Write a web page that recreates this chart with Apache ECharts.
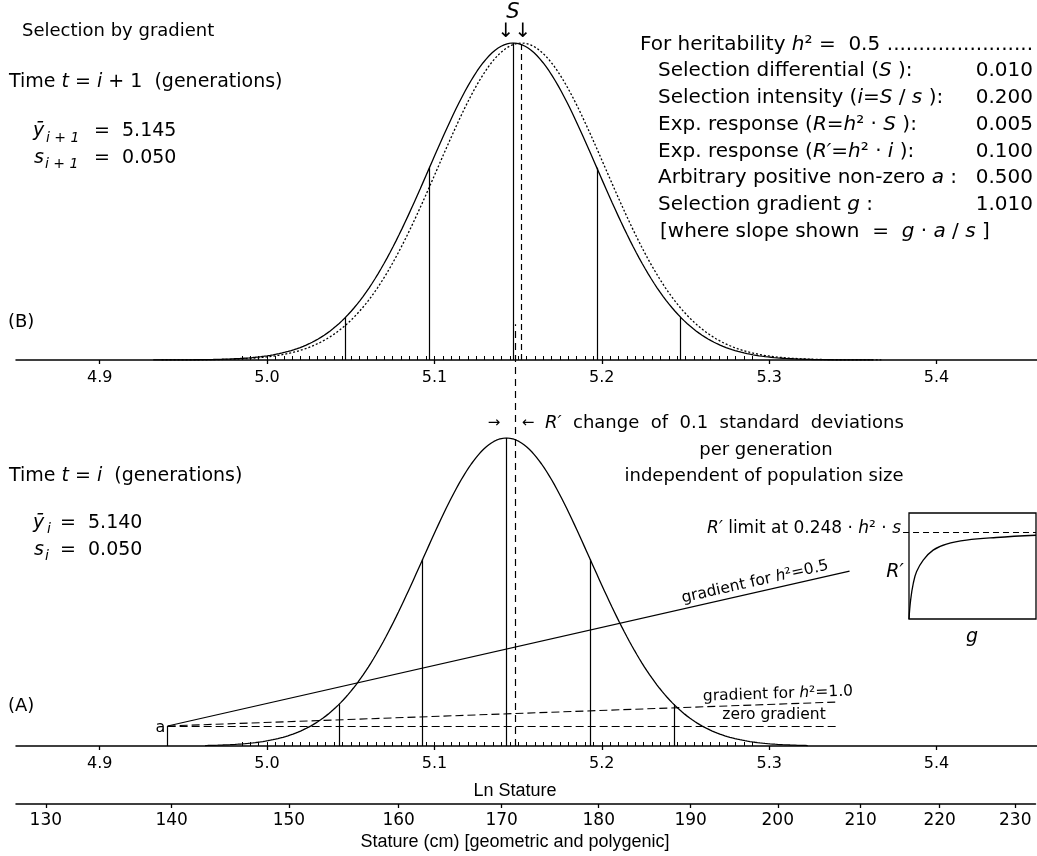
<!DOCTYPE html>
<html>
<head>
<meta charset="utf-8">
<script src="https://cdn.jsdelivr.net/npm/echarts@6/dist/echarts.min.js"></script>
<style>
  html, body { margin: 0; background: #fff; }
  #c { width: 1037px; height: 856px; }
</style>
</head>
<body>
<div id="c"></div>
<script>
// tick labels
const lnTicks = [4.9, 5.0, 5.1, 5.2, 5.3, 5.4];
const cmTicks = [130, 140, 150, 160, 170, 180, 190, 200, 210, 220, 230];
// distributions on ln stature
const meanParent = 5.143;    // (A) time i
const meanOffspring = 5.147; // (B) time i+1
const meanSelected = 5.152;  // (B) dotted, selected parents
const sdLn = 0.050;
const sdSteps = [-2, -1, 0, 1, 2];
const responseX = 5.1485;    // long dashed line
// gradient lines in (A): [ln stature, height relative to peak]
const gradStart = [4.9406, 0.065];
const gradHalfEnd = [5.348, 0.568];
const gradOneEnd = [5.3415, 0.143];
const gradZeroEnd = [5.3415, 0.065];
// inset R' against g
const insetG = [0, 0.013, 0.034, 0.06, 0.112, 0.19, 0.295, 0.452, 0.687, 1.0];
const insetR = [0, 0.181, 0.338, 0.447, 0.556, 0.65, 0.706, 0.744, 0.769, 0.79];
const insetLimit = 0.82;
// parameter table
const paramLabels = [
  '{n|Selection differential (}{i|S}{n| ):}',
  '{n|Selection intensity (}{i|i}{n|=}{i|S}{n| / }{i|s}{n| ):}',
  '{n|Exp. response (}{i|R}{n|=}{i|h}{n|² · }{i|S}{n| ):}',
  '{n|Exp. response (}{i|R′}{n|=}{i|h}{n|² · }{i|i}{n| ):}',
  '{n|Arbitrary positive non-zero }{i|a}{n| :}',
  '{n|Selection gradient }{i|g}{n| :}'
];
const paramValues = ['0.010', '0.200', '0.005', '0.100', '0.500', '1.010'];
// histogram bin ticks under the curves
const binFrom = 4.985, binTo = 5.29, binStep = 0.005;

const SANS = '"DejaVu Sans", Verdana, sans-serif';
const NARROW = '"Liberation Sans", Arial, sans-serif';
const LN_MIN = 4.85, LN_MAX = 5.46;

const bins = [];
for (let k = 0; binFrom + k * binStep <= binTo + 1e-9; k++) bins.push(+(binFrom + k * binStep).toFixed(4));

function bell(mean, sd, span) {
  const pts = [];
  const n = 240;
  for (let i = 0; i <= n; i++) {
    const x = mean - span * sd + 2 * span * sd * i / n;
    const z = (x - mean) / sd;
    pts.push([x, Math.exp(-z * z / 2)]);
  }
  return pts;
}
function sdLines(mean, sd) {
  return sdSteps.map(k => ({ coords: [[mean + k * sd, 0], [mean + k * sd, Math.exp(-k * k / 2)]] }));
}

function lnAxis(g) {
  return {
    type: 'value', gridIndex: g, min: LN_MIN, max: LN_MAX, position: 'bottom',
    axisLine: { onZero: false, lineStyle: { color: '#000', width: 1.5 } },
    axisTick: { customValues: lnTicks, inside: false, length: 4, lineStyle: { color: '#000', width: 1.3 } },
    axisLabel: { customValues: lnTicks, formatter: v => v.toFixed(1), color: '#000', fontSize: 16, fontFamily: SANS, margin: 10 },
    splitLine: { show: false }
  };
}
function minorAxis(g) {
  return {
    type: 'value', gridIndex: g, min: LN_MIN, max: LN_MAX, position: 'bottom',
    axisLine: { show: false, onZero: false },
    axisTick: { customValues: bins, inside: true, length: 4, lineStyle: { color: '#000', width: 1 } },
    axisLabel: { show: false },
    splitLine: { show: false }
  };
}
function hiddenY(g) {
  return { type: 'value', gridIndex: g, min: 0, max: 1, show: false };
}
const solid = { color: '#000', width: 1.3, opacity: 1 };

function txt(x, y, text, size, opt) {
  opt = opt || {};
  const fam = opt.family || SANS;
  return {
    type: 'text', x: x, y: y, rotation: opt.rot || 0, silent: true,
    style: {
      text: text, fill: '#000', font: (opt.italic ? 'italic ' : '') + size + 'px ' + fam,
      align: opt.align || 'left', verticalAlign: 'middle',
      rich: opt.rich ? {
        n: { fontSize: size, fontFamily: fam, fill: '#000' },
        i: { fontSize: size, fontFamily: fam, fontStyle: 'italic', fill: '#000' }
      } : undefined
    }
  };
}

const graphic = [
  txt(22, 31, 'Selection by gradient', 18),
  txt(9, 82, '{n|Time }{i|t}{n| = }{i|i}{n| + 1  (generations)}', 19, { rich: true }),
  txt(33, 131, 'ȳ', 19, { italic: true }),
  txt(46, 138, 'i + 1', 14, { italic: true }),
  txt(94, 131, '=  5.145', 19),
  txt(34, 158, 's', 19, { italic: true }),
  txt(45, 164, 'i + 1', 14, { italic: true }),
  txt(94, 158, '=  0.050', 19),
  txt(8, 322, '(B)', 18),
  txt(513, 13, 'S', 21, { italic: true, align: 'center' }),
  txt(506, 32, '↓', 20, { align: 'center' }),
  txt(523, 32, '↓', 20, { align: 'center' }),
  txt(640, 45, '{n|For heritability }{i|h}{n|² =  0.5}', 20, { rich: true }),
  txt(1033, 45, '.......................', 20, { align: 'right' }),
  txt(660, 232, '{n|[where slope shown  =  }{i|g}{n| · }{i|a}{n| / }{i|s}{n| ]}', 20, { rich: true }),

  txt(9, 476, '{n|Time }{i|t}{n| = }{i|i}{n|  (generations)}', 19, { rich: true }),
  txt(33, 523, 'ȳ', 19, { italic: true }),
  txt(47, 529, 'i', 14, { italic: true }),
  txt(60, 523, '=  5.140', 19),
  txt(34, 550, 's', 19, { italic: true }),
  txt(45, 556, 'i', 14, { italic: true }),
  txt(60, 550, '=  0.050', 19),
  txt(8, 706, '(A)', 18),
  txt(494, 423, '→', 15, { align: 'center' }),
  txt(528, 423, '←', 15, { align: 'center' }),
  txt(545, 423, '{i|R′}{n|  change  of  0.1  standard  deviations}', 18, { rich: true }),
  txt(766, 450, 'per generation', 18, { align: 'center' }),
  txt(764, 476, 'independent of population size', 18, { align: 'center' }),
  txt(901, 529, '{i|R′}{n| limit at 0.248 · }{i|h}{n|² · }{i|s}', 17, { rich: true, align: 'right' }),
  txt(895, 572, 'R′', 19, { italic: true, align: 'center' }),
  txt(972, 637, 'g', 19, { italic: true, align: 'center' }),
  txt(755, 582, '{n|gradient for }{i|h}{n|²=0.5}', 15.5, { rich: true, align: 'center', rot: 0.2225 }),
  txt(778, 694, '{n|gradient for }{i|h}{n|²=1.0}', 15.5, { rich: true, align: 'center', rot: 0.035 }),
  txt(774, 715, 'zero gradient', 15.5, { align: 'center' }),
  txt(160.5, 728, 'a', 16, { align: 'center' }),
  txt(515, 791, 'Ln Stature', 18, { align: 'center', family: NARROW }),
  txt(515, 842, 'Stature (cm) [geometric and polygenic]', 18, { align: 'center', family: NARROW })
];
paramLabels.forEach((l, k) => {
  graphic.push(txt(658, 71 + k * 26.8, l, 20, { rich: true }));
  graphic.push(txt(1033, 71 + k * 26.8, paramValues[k], 20, { align: 'right' }));
});

const option = {
  animation: false,
  backgroundColor: '#fff',
  grid: [
    { left: 16, width: 1022, top: 43, height: 317 },   // (B)
    { left: 16, width: 1022, top: 438, height: 308 },  // (A)
    { left: 16, width: 1022, top: 43, height: 703 },   // overlay across both
    { left: 16, width: 1019.5, top: 794, height: 10 }, // cm axis
    { left: 909, width: 127, top: 513, height: 106, show: true, borderColor: '#000', borderWidth: 1.3 } // inset
  ],
  xAxis: [
    lnAxis(0), minorAxis(0),
    lnAxis(1), minorAxis(1),
    { type: 'value', gridIndex: 2, min: LN_MIN, max: LN_MAX, show: false },
    {
      type: 'value', gridIndex: 3, min: 4.85, max: 5.45, position: 'bottom',
      axisLine: { onZero: false, lineStyle: { color: '#000', width: 1.5 } },
      axisTick: { customValues: cmTicks.map(Math.log), length: 4, lineStyle: { color: '#000', width: 1.3 } },
      axisLabel: { customValues: cmTicks.map(Math.log), formatter: v => String(Math.round(Math.exp(v))), color: '#000', fontSize: 17, fontFamily: SANS, margin: 8 },
      splitLine: { show: false }
    },
    { type: 'value', gridIndex: 4, min: 0, max: 1, show: false }
  ],
  yAxis: [hiddenY(0), hiddenY(1), hiddenY(2), hiddenY(3), hiddenY(4)],
  graphic: graphic,
  series: [
    // (B)
    { type: 'line', xAxisIndex: 0, yAxisIndex: 0, data: bell(meanOffspring, sdLn, 4.3), showSymbol: false, lineStyle: solid, silent: true },
    { type: 'line', xAxisIndex: 0, yAxisIndex: 0, data: bell(meanSelected, sdLn, 4.3), showSymbol: false, lineStyle: { color: '#000', width: 1.3, type: [2, 2] }, silent: true },
    { type: 'lines', coordinateSystem: 'cartesian2d', xAxisIndex: 0, yAxisIndex: 0, data: sdLines(meanOffspring, sdLn), lineStyle: { color: '#000', width: 1.2, opacity: 1 }, silent: true },
    { type: 'lines', coordinateSystem: 'cartesian2d', xAxisIndex: 0, yAxisIndex: 0, data: [{ coords: [[meanSelected, 0], [meanSelected, 1]] }], lineStyle: { color: '#000', width: 1.2, opacity: 1, type: [6, 4] }, silent: true },
    // (A)
    { type: 'line', xAxisIndex: 2, yAxisIndex: 1, data: bell(meanParent, sdLn, 3.6), showSymbol: false, lineStyle: solid, silent: true },
    { type: 'lines', coordinateSystem: 'cartesian2d', xAxisIndex: 2, yAxisIndex: 1, data: sdLines(meanParent, sdLn), lineStyle: { color: '#000', width: 1.2, opacity: 1 }, silent: true },
    { type: 'lines', coordinateSystem: 'cartesian2d', xAxisIndex: 2, yAxisIndex: 1,
      data: [{ coords: [gradStart, gradHalfEnd] }, { coords: [[gradStart[0], 0], gradStart] }],
      lineStyle: { color: '#000', width: 1.2, opacity: 1 }, silent: true },
    { type: 'lines', coordinateSystem: 'cartesian2d', xAxisIndex: 2, yAxisIndex: 1,
      data: [{ coords: [gradStart, gradOneEnd] }, { coords: [gradStart, gradZeroEnd] }],
      lineStyle: { color: '#000', width: 1.1, opacity: 1, type: [8, 4] }, silent: true },
    // long dashed response line
    { type: 'lines', coordinateSystem: 'cartesian2d', xAxisIndex: 4, yAxisIndex: 2,
      data: [{ coords: [[responseX, 0], [responseX, 0.6]] }],
      lineStyle: { color: '#000', width: 1.2, opacity: 1, type: [7, 5] }, silent: true },
    // inset
    { type: 'line', xAxisIndex: 6, yAxisIndex: 4, data: insetG.map((g, k) => [g, insetR[k]]), smooth: 0.4, showSymbol: false, lineStyle: solid, silent: true },
    { type: 'lines', coordinateSystem: 'cartesian2d', xAxisIndex: 6, yAxisIndex: 4, clip: false,
      data: [{ coords: [[-0.047, insetLimit], [1, insetLimit]] }],
      lineStyle: { color: '#000', width: 1.1, opacity: 1, type: [6, 4] }, silent: true }
  ]
};

const chart = echarts.init(document.getElementById('c'));
chart.setOption(option);
</script>
</body>
</html>
